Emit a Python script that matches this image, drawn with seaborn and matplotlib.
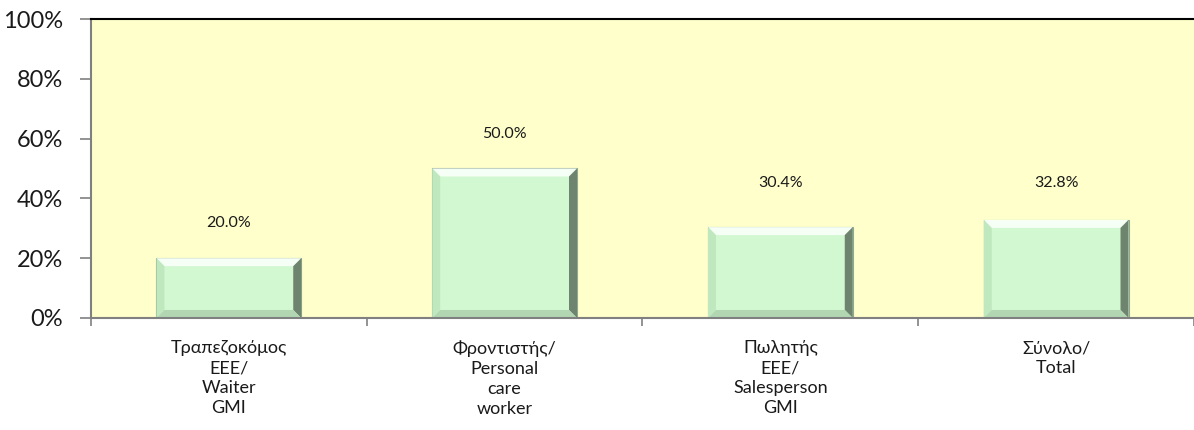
import numpy as np
import pandas as pd
import matplotlib
matplotlib.use("Agg")
import matplotlib.pyplot as plt
import seaborn as sns
from matplotlib.patches import Polygon
from matplotlib.ticker import FixedLocator, PercentFormatter

categories = ["Τραπεζοκόμος\nΕΕΕ/\nWaiter\nGMI",
              "Φροντιστής/\nPersonal\ncare\nworker",
              "Πωλητής\nΕΕΕ/\nSalesperson\nGMI",
              "Σύνολο/\nTotal"]
values = [20.0, 50.0, 30.4, 32.8]
label_y = [30.4, 60.2, 43.8, 43.8]

df = pd.DataFrame({"cat": categories, "val": values})

sns.set_theme(style="white")
plt.rcParams["font.family"] = ["Lato", "DejaVu Sans"]

fig = plt.figure(figsize=(11.94, 4.30), dpi=100)
ax = fig.add_axes([0.0762, 0.2605, 0.9238, 0.6953])
ax.set_facecolor("#ffffcc")

sns.barplot(data=df, x="cat", y="val", color="#d2f8d2", width=0.525,
            edgecolor="#8fa88f", linewidth=0.8, saturation=1, ax=ax)

ax.set_ylim(0, 100)
ax.set_xlim(-0.5, 3.5)

# bevel look: derive sizes from the axes pixel size
ax_w = fig.get_figwidth() * fig.dpi * 0.9238
ax_h = fig.get_figheight() * fig.dpi * 0.6953
bx = 8 / (ax_w / 4.0)
by = 8 / (ax_h / 100.0)
for p in ax.patches:
    x0, y0 = p.get_x(), p.get_y()
    x1, y1 = x0 + p.get_width(), y0 + p.get_height()
    bevels = [
        ([(x0, y1), (x1, y1), (x1 - bx, y1 - by), (x0 + bx, y1 - by)], "#f6fff6"),
        ([(x1, y1), (x1, y0), (x1 - bx, y0 + by), (x1 - bx, y1 - by)], "#6e846e"),
        ([(x0, y1), (x0, y0), (x0 + bx, y0 + by), (x0 + bx, y1 - by)], "#bfe8bf"),
        ([(x0, y0), (x1, y0), (x1 - bx, y0 + by), (x0 + bx, y0 + by)], "#b2d6b2"),
    ]
    for pts, c in bevels:
        ax.add_patch(Polygon(pts, closed=True, facecolor=c, edgecolor="none", zorder=p.get_zorder() + 0.1))

for i, (v, ly) in enumerate(zip(values, label_y)):
    ax.text(i, ly, f"{v:.1f}%", ha="center", va="baseline", fontsize=11.5, color="#1a1a1a")

ax.yaxis.set_major_locator(FixedLocator([0, 20, 40, 60, 80, 100]))
ax.yaxis.set_major_formatter(PercentFormatter(decimals=0))
ax.tick_params(axis="y", labelsize=17, length=8, color="#808080", width=1.2, left=True, pad=12,
               labelcolor="#1a1a1a")
ax.set_xticks(range(len(categories)))
ax.set_xticklabels(categories, fontsize=13, linespacing=1.3, color="#1a1a1a")
ax.tick_params(axis="x", which="major", length=0, pad=16)
ax.set_xticks([-0.5, 0.5, 1.5, 2.5, 3.5], minor=True)
ax.tick_params(axis="x", which="minor", length=6, color="#808080", width=1.2, bottom=True)
ax.set_xlabel("")
ax.set_ylabel("")

for side in ["left", "bottom"]:
    ax.spines[side].set_color("#808080")
    ax.spines[side].set_linewidth(1.5)
ax.spines["top"].set_color("black")
ax.spines["top"].set_linewidth(1.5)
ax.spines["right"].set_visible(False)

fig.savefig("out.png", dpi=100)
